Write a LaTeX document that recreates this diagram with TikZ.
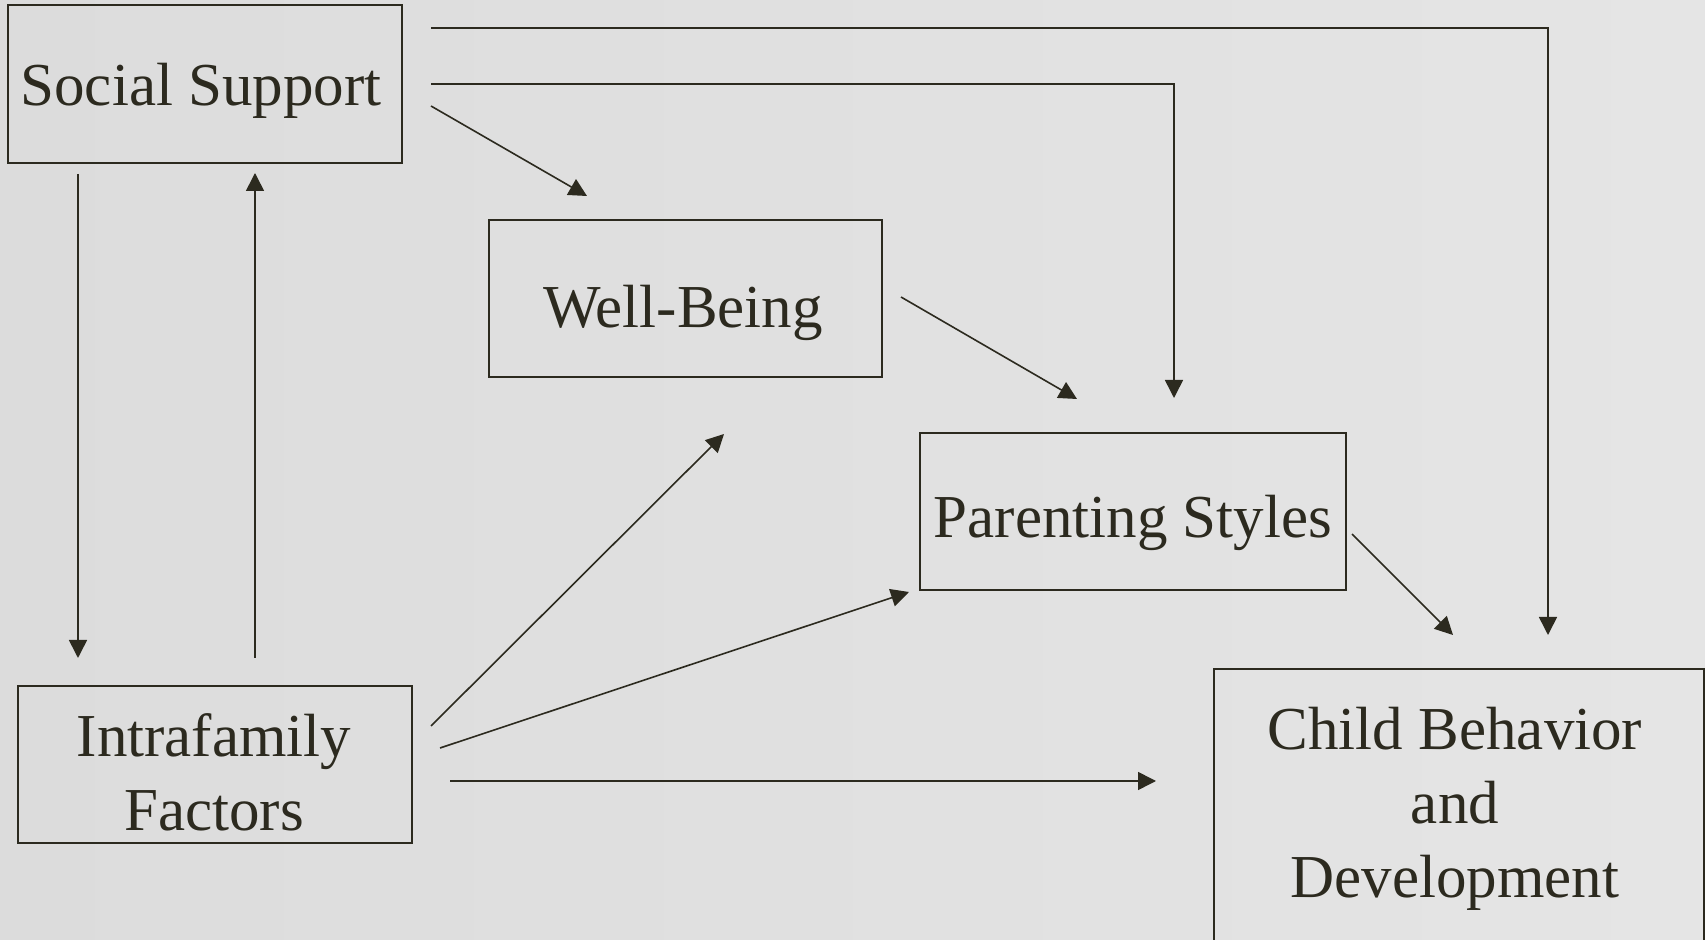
\documentclass[tikz,border=0pt]{standalone}
\usepackage{fontspec}
\setmainfont{Liberation Serif}
\usetikzlibrary{arrows.meta}
\definecolor{ink}{HTML}{2C2A1F}
\definecolor{bgl}{HTML}{DCDCDC}
\definecolor{bgr}{HTML}{E5E5E5}

\begin{document}
\begin{tikzpicture}[x=0.5pt,y=-0.5pt,
  box/.style={draw=ink, line width=1pt, inner sep=0pt},
  lbl/.style={text=ink, font=\fontsize{30.5pt}{37pt}\selectfont, align=center, anchor=base, inner sep=0pt},
  link/.style={draw=ink, line width=0.8pt, -{Triangle[length=9pt,width=9pt]}}]

% background
\shade[left color=bgl, right color=bgr] (0,0) rectangle (1705,940);
\useasboundingbox (0,0) rectangle (1705,940);

% boxes
\node[box, minimum width=197pt, minimum height=79pt]    (ss)    at (205,84)     {};
\node[box, minimum width=196.5pt, minimum height=78.5pt] (wb)   at (685.5,298.5) {};
\node[box, minimum width=213pt, minimum height=78.5pt]  (ps)    at (1133,511.5) {};
\node[box, minimum width=197pt, minimum height=78.5pt]  (ifam)  at (215,764.5)  {};
\node[box, minimum width=245pt, minimum height=165.5pt] (child) at (1459,834.5) {};

% labels (base anchor sits on the last line of a multi-line label)
\node[lbl] (ssT)    at (201,106)  {Social Support};
\node[lbl] (wbT)    at (683,328)  {Well-Being};
\node[lbl] (psT)    at (1133,538) {Parenting Styles};
\node[lbl] (ifamT)  at (214,831)  {Intrafamily\\Factors};
\node[lbl] (childT) at (1455,898) {Child Behavior\\and\\Development};

% connector end points
\coordinate (ssA)   at (431,28);
\coordinate (ssB)   at (431,84);
\coordinate (ssC)   at (431,106);
\coordinate (ssD)   at (78,174);
\coordinate (ssIn)  at (255,173);
\coordinate (wbIn)  at (587,196);
\coordinate (wbOut) at (901,297);
\coordinate (wbIn2) at (724,434);
\coordinate (psInA) at (1077,399);
\coordinate (psInB) at (1174,398);
\coordinate (psInC) at (909,592);
\coordinate (psOut) at (1352,534);
\coordinate (chInA) at (1548,635);
\coordinate (chInB) at (1453,635);
\coordinate (chInC) at (1156,781);
\coordinate (ifIn)  at (78,658);
\coordinate (ifUp)  at (255,658);
\coordinate (ifA)   at (431,726);
\coordinate (ifB)   at (440,748);
\coordinate (ifC)   at (450,781);

% connectors
\draw[link] (ssA) -| (chInA);
\draw[link] (ssB) -| (psInB);
\draw[link] (ssC) -- (wbIn);
\draw[link] (ssD) -- (ifIn);
\draw[link] (ifUp) -- (ssIn);
\draw[link] (wbOut) -- (psInA);
\draw[link] (psOut) -- (chInB);
\draw[link] (ifA) -- (wbIn2);
\draw[link] (ifB) -- (psInC);
\draw[link] (ifC) -- (chInC);
\end{tikzpicture}
\end{document}
